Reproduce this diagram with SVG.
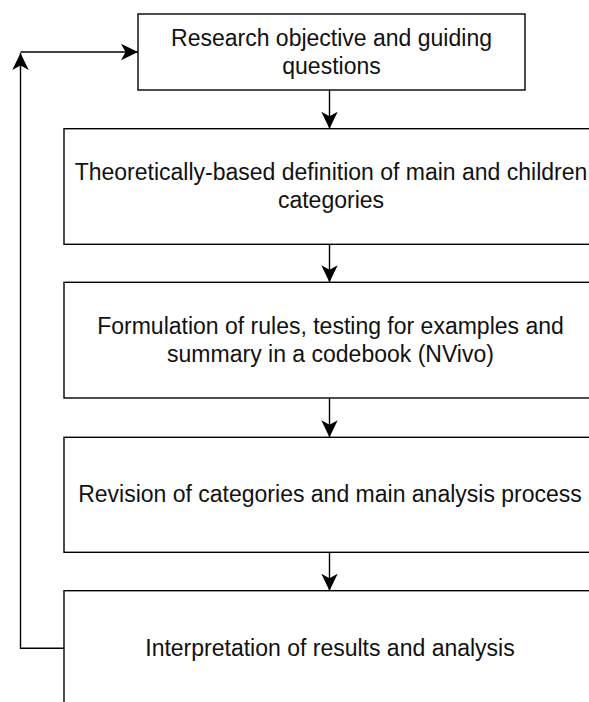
<svg xmlns="http://www.w3.org/2000/svg" width="589" height="702" viewBox="0 0 589 702">
<style>
.box{fill:#fff;stroke:#000;stroke-width:1.4}
.lbl{font-family:"Liberation Sans",Arial,sans-serif;font-size:23px;fill:#111;text-anchor:middle}
.edge{fill:none;stroke:#000;stroke-width:1.4}
</style>
<defs>
<marker id="arr" viewBox="0 0 17 17" refX="17" refY="8.5" markerWidth="17" markerHeight="17" markerUnits="userSpaceOnUse" orient="auto">
<path d="M17 8.5 L0 0.3 L4.5 8.5 L0 16.7 Z" fill="#000"/>
</marker>
</defs>
<rect width="589" height="702" fill="#fff"/>
<g id="connectors">
<path class="edge" d="M329.5 90 V128.7" marker-end="url(#arr)"/>
<path class="edge" d="M329.5 244.3 V282.3" marker-end="url(#arr)"/>
<path class="edge" d="M329.5 398 V437.3" marker-end="url(#arr)"/>
<path class="edge" d="M329.5 552.3 V590.7" marker-end="url(#arr)"/>
<path class="edge" d="M64 648.3 H20.5 V53" marker-end="url(#arr)"/>
<path class="edge" d="M20.5 52 H138" marker-end="url(#arr)"/>
</g>
<g id="n1">
<rect class="box" x="138" y="14" width="387" height="76"/>
<text class="lbl" x="331.5" y="45.5">Research objective and guiding</text>
<text class="lbl" x="331.5" y="73.5">questions</text>
</g>
<g id="n2">
<rect class="box" x="64" y="128.7" width="540" height="115.6"/>
<text class="lbl" x="331" y="180">Theoretically-based definition of main and children</text>
<text class="lbl" x="331" y="208.3">categories</text>
</g>
<g id="n3">
<rect class="box" x="64" y="282.3" width="540" height="115.7"/>
<text class="lbl" x="330.5" y="333.5">Formulation of rules, testing for examples and</text>
<text class="lbl" x="330.5" y="361.7">summary in a codebook (NVivo)</text>
</g>
<g id="n4">
<rect class="box" x="64" y="437.3" width="540" height="115"/>
<text class="lbl" x="330" y="501.5">Revision of categories and main analysis process</text>
</g>
<g id="n5">
<rect class="box" x="64" y="590.7" width="540" height="130"/>
<text class="lbl" x="330" y="656">Interpretation of results and analysis</text>
</g>
</svg>
